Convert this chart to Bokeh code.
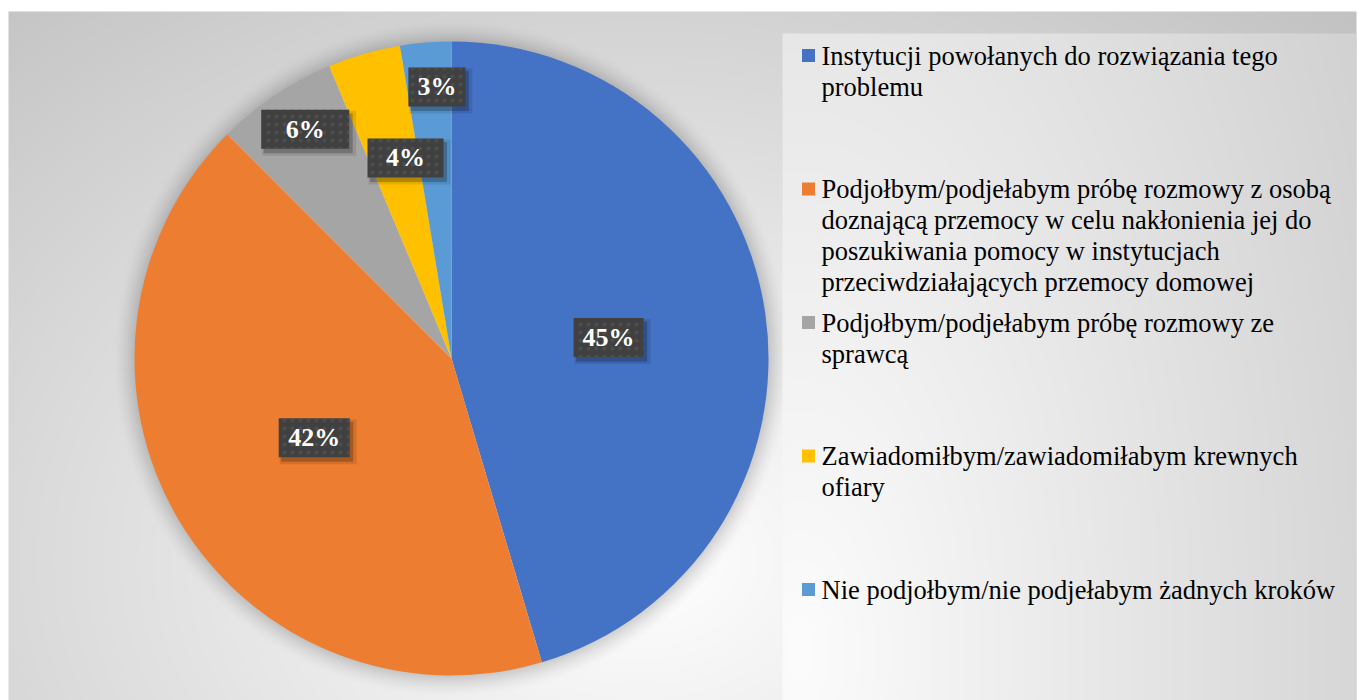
import numpy as np
from bokeh.plotting import figure
from bokeh.models import Range1d, ColumnDataSource
from bokeh.embed import file_html
from bokeh.resources import INLINE
from bokeh.core.properties import value

# ---------------- data ----------------
categories = [
    "Instytucji powołanych do rozwiązania tego\nproblemu",
    "Podjołbym/podjełabym próbę rozmowy z osobą\ndoznającą przemocy w celu nakłonienia jej do\nposzukiwania pomocy w instytucjach\nprzeciwdziałających przemocy domowej",
    "Podjołbym/podjełabym próbę rozmowy ze\nsprawcą",
    "Zawiadomiłbym/zawiadomiłabym krewnych\nofiary",
    "Nie podjołbym/nie podjełabym żadnych kroków",
]
values = [45.4, 42.1, 6.2, 3.7, 2.6]
colors = ["#4472C4", "#ED7D31", "#A5A5A5", "#FFC000", "#5B9BD5"]
pct_labels = [f"{round(v)}%" for v in values]

# ---------------- layout / style ----------------
W, H = 1358, 700
def dy(py):
    return H - py

CX, CY, R = 451, dy(358), 317.0
label_rfrac = [0.50, 0.50, 0.858, 0.649, 0.858]
label_nudge = [0.7, 0.8, 1.3, 3.1, 1.6]     # degrees
box_w = [70, 71, 88, 76, 57]
box_h = 39

SERIF = value("Liberation Serif")

p = figure(width=W, height=H, x_range=Range1d(0, W), y_range=Range1d(0, H),
           x_axis_location=None, y_axis_location=None, toolbar_location=None,
           output_backend="svg", min_border=0, background_fill_color="white",
           border_fill_color="white", outline_line_color=None)
p.grid.grid_line_color = None

def to_rgba(b):
    h, w = b.shape
    img = np.empty((h, w), dtype=np.uint32)
    v = img.view(dtype=np.uint8).reshape((h, w, 4))
    bb = np.clip(b, 0, 255).astype(np.uint8)
    v[..., 0] = bb
    v[..., 1] = bb
    v[..., 2] = bb
    v[..., 3] = 255
    return img

# chart background (radial gradient + soft pie shadow): page x 8..1356, y 11..700
bx0, bx1, by_top = 8, 1356, 11
gw, gh = 674, 345
xs = bx0 + (np.arange(gw) + 0.5) * ((bx1 - bx0) / gw)
ys = (np.arange(gh) + 0.5) * ((H - by_top) / gh)
X, Y = np.meshgrid(xs, ys)
PX, PY = X, H - Y
nx = (PX - 640) / 800.0
ny = (PY - 560) / 600.0
d = np.sqrt(nx ** 2 + ny ** 2)
bright = 255 - 62 * np.clip(d / 1.3, 0, 1)
rr = np.hypot(PX - 451, PY - 358)
s = rr - R
dark = np.where((s > -3) & (s < 22), 0.17 * np.clip(1 - s / 22.0, 0, 1) ** 1.6, 0.0)
bright = bright * (1 - dark)
p.image_rgba(image=[to_rgba(bright)], x=bx0, y=0, dw=bx1 - bx0, dh=H - by_top)

# legend box background: page x 782..1356, y 33..700
lw, lh = 287, 334
lx0, lx1 = 782, 1356
ly1 = dy(33)
xs2 = lx0 + (np.arange(lw) + 0.5) * ((lx1 - lx0) / lw)
ys2 = (np.arange(lh) + 0.5) * (ly1 / lh)
X2, Y2 = np.meshgrid(xs2, ys2)
PX2, PY2 = X2, H - Y2
nx2 = (PX2 - 800) / 600.0
ny2 = (PY2 - 650) / 1200.0
d2 = np.sqrt(nx2 ** 2 + ny2 ** 2)
bright2 = 252 - 40 * d2
p.image_rgba(image=[to_rgba(bright2)], x=lx0, y=0, dw=lx1 - lx0, dh=ly1)

# ---------------- pie ----------------
tot = float(sum(values))
cum = np.concatenate([[0.0], np.cumsum(values)]) / tot
start = np.pi / 2 - 2 * np.pi * cum[1:]
end = np.pi / 2 - 2 * np.pi * cum[:-1]
src = ColumnDataSource(dict(start=start, end=end, color=colors))
p.wedge(x=CX, y=CY, radius=R, start_angle="start", end_angle="end",
        direction="anticlock", fill_color="color", line_color=None, source=src)

# ---------------- data labels ----------------
mid_deg = (cum[:-1] + cum[1:]) / 2 * 360 + np.array(label_nudge)
lab_r = np.array(label_rfrac) * R
lx = CX + lab_r * np.sin(np.radians(mid_deg))
ly = CY + lab_r * np.cos(np.radians(mid_deg))
bw = np.array(box_w, dtype=float)

p.rect(x=lx + 4, y=ly - 4, width=bw + 6, height=box_h + 6, fill_color="black",
       fill_alpha=0.10, line_color=None)
p.rect(x=lx + 3, y=ly - 4, width=bw + 1, height=box_h + 1, fill_color="black",
       fill_alpha=0.22, line_color=None)
p.rect(x=lx, y=ly, width=bw, height=box_h, fill_color="#404040", line_color=None,
       hatch_pattern=".", hatch_scale=8, hatch_color="#505050", hatch_weight=1.5,
       hatch_alpha=0.8)
p.text(x=lx, y=ly, text=pct_labels, text_align="center", text_baseline="middle",
       text_font=SERIF, text_font_style="bold", text_font_size="26px",
       text_color="white")

# ---------------- legend ----------------
sq_x = 808
first_y = 55.0
slot = 133.5
line_h = 31.0
sq_y = [dy(first_y + i * slot) for i in range(len(categories))]
p.rect(x=[sq_x] * len(categories), y=sq_y, width=13, height=13,
       fill_color=colors, line_color=None)
tx, ty, tt = [], [], []
for i, cat in enumerate(categories):
    for j, line in enumerate(cat.split("\n")):
        tx.append(821)
        ty.append(dy(first_y + i * slot + j * line_h))
        tt.append(line)
p.text(x=tx, y=ty, text=tt, text_align="left", text_baseline="alphabetic",
       text_font=SERIF, text_font_size="26.5px", text_color="black")

open("out.html", "w").write(file_html(p, INLINE))
